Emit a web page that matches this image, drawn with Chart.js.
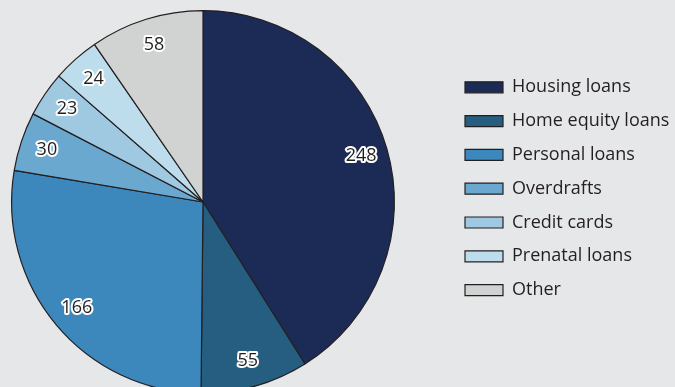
<!DOCTYPE html>
<html>
<head>
<meta charset="utf-8">
<script src="https://cdn.jsdelivr.net/npm/chart.js@4.4.1/dist/chart.umd.min.js"></script>
<style>
  html, body { margin: 0; padding: 0; background: #e6e7e8; overflow: hidden; }
  #wrap { width: 675px; height: 404px; }
</style>
</head>
<body>
<div id="wrap"><canvas id="loanChart"></canvas></div>
<script>
// Loan categories and counts
const categories = ["Housing loans", "Home equity loans", "Personal loans", "Overdrafts", "Credit cards", "Prenatal loans", "Other"];
const counts = [248, 55, 166, 30, 23, 24, 58];
const sliceColors = ["#1b2b55", "#255e80", "#3c88bd", "#6aa8cf", "#9fc8e1", "#bddcec", "#d1d2d2"];

const TEXT_COLOR = "#231f20";
const FONT = "'Open Sans', sans-serif";

// Pin the pie area and the legend block where they belong
const layoutFix = {
  id: "layoutFix",
  afterLayout(chart) {
    const area = chart.chartArea;
    area.left = 11;
    area.right = 395;
    area.width = 384;
    area.top = 10;
    area.bottom = 394;
    area.height = 384;

    const legend = chart.legend;
    legend.left = 449.2;
    legend.right = 675;
    legend.width = legend.right - legend.left;
    legend.top = 0;
    legend.bottom = 377.4;
    legend.height = legend.bottom;
  }
};

// Value labels near the rim of each slice, dark text with a white halo
const sliceLabels = {
  id: "sliceLabels",
  afterDatasetsDraw(chart) {
    const ctx = chart.ctx;
    const meta = chart.getDatasetMeta(0);
    ctx.save();
    ctx.font = "18px " + FONT;
    ctx.textAlign = "center";
    ctx.textBaseline = "middle";
    ctx.lineJoin = "round";
    meta.data.forEach((arc, i) => {
      const p = arc.getProps(["x", "y", "startAngle", "endAngle", "outerRadius"]);
      const mid = (p.startAngle + p.endAngle) / 2;
      const r = p.outerRadius * 0.86;
      const x = p.x + Math.cos(mid) * r;
      const y = p.y + Math.sin(mid) * r;
      const txt = String(counts[i]);
      ctx.strokeStyle = "#ffffff";
      ctx.lineWidth = 4;
      ctx.strokeText(txt, x, y);
      ctx.fillStyle = TEXT_COLOR;
      ctx.fillText(txt, x, y);
    });
    ctx.restore();
  }
};

new Chart(document.getElementById("loanChart"), {
  type: "pie",
  data: {
    labels: categories,
    datasets: [{
      data: counts,
      backgroundColor: sliceColors,
      borderColor: "#231f20",
      borderWidth: 1.2
    }]
  },
  options: {
    responsive: true,
    maintainAspectRatio: false,
    animation: false,
    events: [],
    layout: { padding: { left: 11, top: 10, bottom: 10 } },
    plugins: {
      tooltip: { enabled: false },
      legend: {
        position: "right",
        align: "center",
        labels: {
          boxWidth: 38,
          boxHeight: 11,
          padding: 15.8,
          color: TEXT_COLOR,
          font: { family: FONT, size: 18 }
        }
      }
    }
  },
  plugins: [layoutFix, sliceLabels]
});
</script>
</body>
</html>
